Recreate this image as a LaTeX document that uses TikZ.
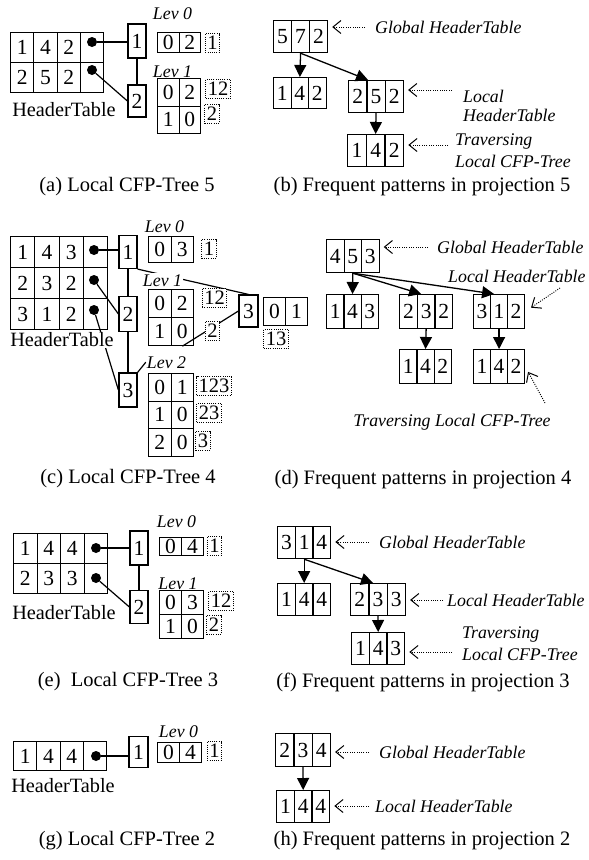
\documentclass[tikz,border=0pt]{standalone}
\usepackage{fontspec}
\setmainfont{Liberation Serif}
\usetikzlibrary{arrows.meta,calc}
\newcommand\cellrow[6]{%
  \foreach \v [count=\i] in {#6} {%
    \node[cell, minimum width=#4pt, minimum height=#5pt, anchor=north west] (#1-\i) at ({#2+(\i-1)*#4}, #3) {\v};
  }%
}
\begin{document}
\begin{tikzpicture}[x=1pt,y=-1pt,
  cell/.style={draw, line width=1.2pt, inner sep=0pt, font=\fontsize{21.5}{24}\selectfont},
  tnode/.style={draw, line width=1.2pt, inner sep=0pt, minimum width=18pt, minimum height=33pt, font=\fontsize{21.5}{24}\selectfont},
  dotn/.style={circle, fill=black, inner sep=0pt, minimum size=10pt},
  dbox/.style={draw, line width=0.9pt, dash pattern=on 1pt off 1.2pt, fill=white, inner xsep=2pt, inner ysep=1.5pt, minimum height=19pt, font=\fontsize{20.5}{22}\selectfont},
  lab/.style={font=\fontsize{17.8}{21}\selectfont\itshape, inner sep=1pt},
  levlab/.style={font=\fontsize{17.8}{21}\selectfont\itshape, inner sep=1pt, fill=white},
  htlab/.style={font=\fontsize{20.3}{24}\selectfont, inner sep=1pt, fill=white},
  captxt/.style={font=\fontsize{20.5}{24}\selectfont},
  conn/.style={line width=1.2pt},
  garrow/.style={line width=1.3pt, -{Triangle[length=12pt,width=12pt]}},
  ptr/.style={line width=0.9pt, dash pattern=on 1pt off 1.3pt, -{Straight Barb[length=8pt,width=13pt,line width=1pt]}, shorten >=4pt},
]
\useasboundingbox[fill=white] (0,0) rectangle (589,860);

% ---------------- (a)
\cellrow{aT1}{10}{32}{23.25}{30}{1,4,2,{}}
\cellrow{aT2}{10}{62}{23.25}{30}{2,5,2,{}}
\node[dotn] (aD1) at (92,42) {};
\node[dotn] (aD2) at (92,70) {};
\node[tnode, minimum height=34pt] (aN1) at (137,41) {1};
\node[tnode, minimum height=32pt] (aN2) at (137,101) {2};
\draw[conn] (aD1) -- (aN1.west |- aD1);
\draw[conn] (aN1) -- (aN2);
\draw[conn] (aD2) -- (aN2.west);
\node[htlab] (aH) at (64,110) {HeaderTable};
\node[lab, anchor=base] (aV0) at (172.5,19) {Lev 0};
\cellrow{aL0}{157}{32}{21.5}{20}{0,2}
\node[dbox] (aP0) at (212.5,43) {1};
\node[lab, anchor=base] (aV1) at (172.5,77) {Lev 1};
\cellrow{aL1a}{157}{78}{21.5}{27.5}{0,2}
\cellrow{aL1b}{157}{105.5}{21.5}{27.5}{1,0}
\node[dbox] (aP1a) at (218,89) {12};
\node[dbox] (aP1b) at (212,114) {2};
\node[captxt] (aC) at (127,187) {(a) Local CFP-Tree 5};

% ---------------- (b)
\cellrow{b0}{273}{20}{18}{32}{5,7,2}
\cellrow{b1}{273}{77}{17.5}{31}{1,4,2}
\cellrow{b2}{348}{80}{18.3}{32}{2,5,2}
\cellrow{b3}{347}{134}{18.7}{32}{1,4,2}
\draw[garrow] (b0-2.south) -- (b1-2.north);
\draw[garrow] (b0-2.south) -- ([xshift=-8pt]b2-2.north);
\draw[garrow] (b2-2.south) -- (b3-2.north);
\node[lab, anchor=west] (bG) at (374,27) {Global HeaderTable};
\draw[ptr, shorten <=9pt] (bG.west) -- (b0-3.east |- bG.west);
\node[lab, anchor=west, align=left, font=\fontsize{17.8}{19}\selectfont\itshape] (bL) at (462,106) {Local\\HeaderTable};
\coordinate (bLc) at (452,90);
\draw[ptr] (bLc) -- (b2-3.east |- bLc);
\node[lab, anchor=west, align=left, font=\fontsize{17.8}{22}\selectfont\itshape] (bT) at (454,151) {Traversing\\Local CFP-Tree};
\coordinate (bTc) at (448,145);
\draw[ptr] (bTc) -- (b3-3.east |- bTc);
\node[captxt] (bC) at (422,187) {(b) Frequent patterns in projection 5};

% ---------------- (c)
\cellrow{cT1}{10}{236}{24.25}{31}{1,4,3,{}}
\cellrow{cT2}{10}{267}{24.25}{31}{2,3,2,{}}
\cellrow{cT3}{10}{298}{24.25}{31}{3,1,2,{}}
\node[dotn] (cD1) at (94,250) {};
\node[dotn] (cD2) at (94,280) {};
\node[dotn] (cD3) at (94,310) {};
\node[tnode, minimum height=33pt] (cN1) at (128,252) {1};
\node[tnode, minimum height=35pt] (cN2) at (128,314) {2};
\node[tnode, minimum height=34pt] (cN3) at (128,390) {3};
\node[tnode, minimum width=19pt, minimum height=32pt] (cN4) at (248.5,311) {3};
\cellrow{cU}{263}{297}{22}{28}{0,1}
\cellrow{cL0}{148}{236}{22.5}{26}{0,3}
\cellrow{cL1a}{148}{289}{22.5}{28}{0,2}
\cellrow{cL1b}{148}{317}{22.5}{28}{1,0}
\cellrow{cL2a}{148}{373}{22.5}{27.5}{0,1}
\cellrow{cL2b}{148}{400.5}{22.5}{27.5}{1,0}
\cellrow{cL2c}{148}{428}{22.5}{27.5}{2,0}
\draw[conn] (cD1) -- (cN1.west |- cD1);
\draw[conn] (cN1) -- (cN2);
\draw[conn] (cN2) -- (cN3);
\draw[conn] (cD2) -- (cN2.west);
\draw[conn] (cD3) -- (cN3.west);
\draw[conn] (cN1.south east) -- (cN4.north);
\draw[conn] (cL1b-2.south) -- (cN4.west);
\node[levlab, anchor=base] (cV2) at (166.5,368) {Lev 2};
\draw[conn] (cN3.north east) -- (cV2.west);
\node[htlab] (cH) at (62,340) {HeaderTable};
\node[lab, anchor=base] (cV0) at (164.5,232) {Lev 0};
\node[levlab, anchor=base] (cV1) at (162.5,286) {Lev 1};
\node[dbox] (cP0) at (209,249) {1};
\node[dbox] (cP1a) at (214.5,298) {12};
\node[dbox] (cP1b) at (212.5,331) {2};
\node[dbox] (cP2a) at (214,386) {123};
\node[dbox] (cP2b) at (209,413) {23};
\node[dbox] (cP2c) at (203,441) {3};
\node[dbox] (cS) at (276,339) {13};
\node[captxt] (cC) at (128,479) {(c) Local CFP-Tree 4};

% ---------------- (d)
\cellrow{d0}{326}{239}{17.5}{33}{4,5,3}
\cellrow{d1}{326}{294}{17.3}{34}{1,4,3}
\cellrow{d2}{399}{294}{17.7}{34}{2,3,2}
\cellrow{d3}{473}{294}{17}{34}{3,1,2}
\cellrow{d4}{399}{349}{17.3}{34}{1,4,2}
\cellrow{d5}{473}{349}{17}{34}{1,4,2}
\draw[garrow] (d0-2.south) -- (d1-2.north);
\draw[garrow] (d0-2.south) -- ([xshift=-5pt]d2-2.north);
\draw[garrow] (d0-2.south) -- ([xshift=-5pt]d3-2.north);
\draw[garrow] (d2-2.south) -- (d4-2.north);
\draw[garrow] (d3-2.south) -- (d5-2.north);
\node[lab, anchor=west] (dG) at (436,247) {Global HeaderTable};
\draw[ptr, shorten <=8pt] (dG.west) -- (d0-3.east |- dG.west);
\node[lab, anchor=west] (dL) at (447,276) {Local HeaderTable};
\coordinate (dLc) at (560,288);
\draw[ptr, shorten >=7pt] (dLc) -- (d3-3.east);
\node[lab] (dT) at (452,422) {Traversing Local CFP-Tree};
\coordinate (dTc) at (545,403);
\draw[ptr, shorten >=6pt] (dTc) -- (d5-3.east);
\node[captxt] (dC) at (423,480) {(d) Frequent patterns in projection 4};

% ---------------- (e)
\cellrow{eT1}{13}{533}{23.5}{30}{1,4,4,{}}
\cellrow{eT2}{13}{563}{23.5}{30}{2,3,3,{}}
\node[dotn] (eD1) at (96,548) {};
\node[dotn] (eD2) at (96,578) {};
\node[tnode, minimum height=34pt] (eN1) at (139,548) {1};
\node[tnode, minimum height=33pt] (eN2) at (139,607) {2};
\draw[conn] (eD1) -- (eN1.west |- eD1);
\draw[conn] (eN1) -- (eN2);
\draw[conn] (eD2) -- (eN2.west);
\node[htlab] (eH) at (64,613) {HeaderTable};
\node[lab, anchor=base] (eV0) at (176.5,527) {Lev 0};
\cellrow{eL0}{159}{537}{22}{18}{0,4}
\node[dbox] (eP0) at (214.5,546) {1};
\node[lab, anchor=base] (eV1) at (178,589) {Lev 1};
\cellrow{eL1a}{159}{590}{22}{24}{0,3}
\cellrow{eL1b}{159}{614}{22}{24}{1,0}
\node[dbox] (eP1a) at (221,601) {12};
\node[dbox] (eP1b) at (214,625) {2};
\node[captxt] (eC) at (128,682) {(e)~ Local CFP-Tree 3};

% ---------------- (f)
\cellrow{f0}{277}{526}{17.7}{32}{3,1,4}
\cellrow{f1}{277}{583}{17.7}{32}{1,4,4}
\cellrow{f2}{350}{583}{18.3}{32}{2,3,3}
\cellrow{f3}{351}{632}{17.7}{32}{1,4,3}
\draw[garrow] (f0-2.south) -- (f1-2.north);
\draw[garrow] (f0-2.south) -- ([xshift=-5pt]f2-2.north);
\draw[garrow] (f2-2.south) -- (f3-2.north);
\node[lab, anchor=west] (fG) at (378,542) {Global HeaderTable};
\draw[ptr, shorten <=9pt] (fG.west) -- (f0-3.east |- fG.west);
\node[lab, anchor=west] (fL) at (446,600) {Local HeaderTable};
\draw[ptr, shorten <=3pt] (fL.west) -- (f2-3.east |- fL.west);
\node[lab, anchor=west, align=left, font=\fontsize{17.8}{22}\selectfont\itshape] (fT) at (461,644) {Traversing\\Local CFP-Tree};
\coordinate (fTc) at (452,652);
\draw[ptr] (fTc) -- (f3-3.east |- fTc);
\node[captxt] (fC) at (423,682) {(f) Frequent patterns in projection 3};

% ---------------- (g)
\cellrow{gT1}{13}{741}{23.25}{29}{1,4,4,{}}
\node[dotn] (gD1) at (96,756) {};
\node[tnode, minimum width=19pt, minimum height=31pt] (gN1) at (138.5,752) {1};
\draw[conn] (gD1) -- (gN1.west |- gD1);
\node[htlab] (gH) at (63,786) {HeaderTable};
\node[lab, anchor=base] (gV0) at (178.5,737) {Lev 0};
\cellrow{gL0}{157}{742}{22}{20}{0,4}
\node[dbox] (gP0) at (214.5,751) {1};
\node[captxt] (gC) at (127,841) {(g) Local CFP-Tree 2};

% ---------------- (h)
\cellrow{h0}{275}{733}{18.3}{33}{2,3,4}
\cellrow{h1}{276}{790}{17.7}{32}{1,4,4}
\draw[garrow] (h0-2.south) -- (h1-2.north);
\node[lab, anchor=west] (hG) at (378,752) {Global HeaderTable};
\draw[ptr, shorten <=9pt] (hG.west) -- (h0-3.east |- hG.west);
\node[lab, anchor=west] (hL) at (374,806) {Local HeaderTable};
\draw[ptr, shorten <=5pt] (hL.west) -- (h1-3.east |- hL.west);
\node[captxt] (hC) at (422,841) {(h) Frequent patterns in projection 2};
\end{tikzpicture}
\end{document}
